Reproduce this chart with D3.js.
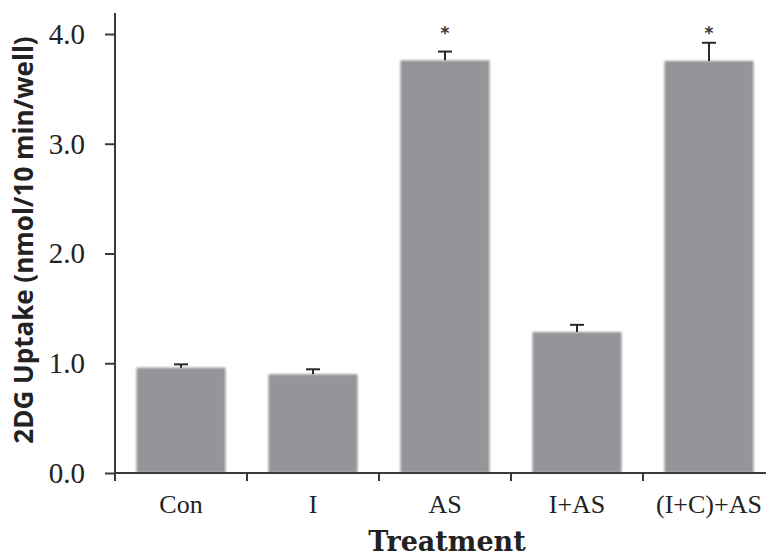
<!DOCTYPE html>
<html>
<head>
<meta charset="utf-8">
<script src="https://cdn.jsdelivr.net/npm/d3@7"></script>
<style>
  body { margin: 0; background: #fff; }
  svg { display: block; }
</style>
</head>
<body>
<svg id="chart" width="766" height="559"></svg>
<script>
// data
var treatments = ["Con", "I", "AS", "I+AS", "(I+C)+AS"];
var uptake = [0.96, 0.90, 3.76, 1.285, 3.755];
var errors = [0.03, 0.045, 0.08, 0.065, 0.165];
var significant = [false, false, true, false, true];
var yTicks = [0, 1, 2, 3, 4];
var starLevel = 4.04;

var svg = d3.select("#chart");
var margin = {left: 115, top: 13, bottom: 473};

var x = d3.scaleBand()
    .domain(treatments)
    .range([margin.left, margin.left + 5 * 132])
    .padding(0);

var y = d3.scaleLinear()
    .domain([0, 4])
    .range([473, 34]);

var barW = x.bandwidth() * 0.675;
var axisColor = "#3a3a3a";

// soft edge like the scanned bars
var defs = svg.append("defs");
defs.append("filter").attr("id", "soft")
    .append("feGaussianBlur").attr("stdDeviation", 0.8);

var rows = treatments.map(function(t, i) {
    return {name: t, value: uptake[i], err: errors[i], sig: significant[i]};
});

// bars
svg.append("g").selectAll("rect")
    .data(rows)
    .enter().append("rect")
    .attr("x", d => x(d.name) + (x.bandwidth() - barW) / 2)
    .attr("y", d => y(d.value))
    .attr("width", barW)
    .attr("height", d => y(0) - y(d.value))
    .attr("fill", "#939598")
    .attr("filter", "url(#soft)");

// error bars (upper only)
var eb = svg.append("g").attr("stroke", "#2a2a2a").attr("stroke-width", 2);
eb.selectAll("line.v")
    .data(rows)
    .enter().append("line")
    .attr("x1", d => x(d.name) + x.bandwidth() / 2)
    .attr("x2", d => x(d.name) + x.bandwidth() / 2)
    .attr("y1", d => y(d.value))
    .attr("y2", d => y(d.value + d.err));
eb.selectAll("line.c")
    .data(rows)
    .enter().append("line")
    .attr("x1", d => x(d.name) + x.bandwidth() / 2 - 7)
    .attr("x2", d => x(d.name) + x.bandwidth() / 2 + 7)
    .attr("y1", d => y(d.value + d.err))
    .attr("y2", d => y(d.value + d.err));

// significance stars
svg.append("g").selectAll("text")
    .data(rows.filter(d => d.sig))
    .enter().append("text")
    .attr("x", d => x(d.name) + x.bandwidth() / 2)
    .attr("y", y(starLevel) + 9)
    .attr("text-anchor", "middle")
    .attr("font-family", "DejaVu Sans")
    .attr("font-weight", "bold")
    .attr("font-size", 17)
    .attr("fill", "#333")
    .text("*");

// y axis
var yAxis = svg.append("g")
    .attr("transform", `translate(${margin.left},0)`)
    .call(d3.axisLeft(y).tickValues(yTicks).tickFormat(d3.format(".1f")).tickSize(10).tickPadding(20));
yAxis.select(".domain").attr("d", `M0,${margin.top}V${y(0)}`);

// x axis, ticks on band edges
var xAxis = svg.append("g")
    .attr("transform", `translate(0,${y(0)})`);
xAxis.append("line")
    .attr("x1", margin.left).attr("x2", 766)
    .attr("stroke", axisColor).attr("stroke-width", 2);
xAxis.selectAll("line.tick")
    .data(treatments)
    .enter().append("line")
    .attr("x1", d => x(d)).attr("x2", d => x(d))
    .attr("y1", 0).attr("y2", 8)
    .attr("stroke", axisColor).attr("stroke-width", 2);
xAxis.selectAll("text")
    .data(treatments)
    .enter().append("text")
    .attr("x", d => x(d) + x.bandwidth() / 2)
    .attr("y", 40)
    .attr("text-anchor", "middle")
    .attr("font-family", "Liberation Serif")
    .attr("font-size", 26)
    .attr("fill", "#222")
    .text(d => d);

yAxis.selectAll("path, line").attr("stroke", axisColor).attr("stroke-width", 2);
yAxis.selectAll("text")
    .attr("font-family", "Liberation Serif")
    .attr("font-size", 29)
    .attr("fill", "#222");

// axis titles
svg.append("text")
    .attr("transform", "translate(33,240) rotate(-90)")
    .attr("text-anchor", "middle")
    .attr("font-family", "Open Sans")
    .attr("font-weight", "bold")
    .attr("font-size", 26)
    .attr("fill", "#222")
    .text("2DG Uptake (nmol/10 min/well)");

svg.append("text")
    .attr("x", 447)
    .attr("y", 551)
    .attr("text-anchor", "middle")
    .attr("font-family", "DejaVu Serif")
    .attr("font-weight", "bold")
    .attr("font-size", 27)
    .attr("fill", "#222")
    .text("Treatment");
</script>
</body>
</html>
